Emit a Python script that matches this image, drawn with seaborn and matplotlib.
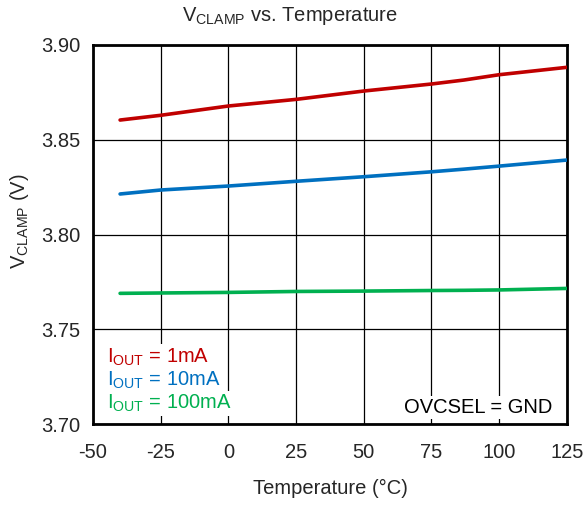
import matplotlib
matplotlib.use("Agg")
import matplotlib.pyplot as plt
import seaborn as sns
import pandas as pd

# Clamp voltage (V) versus temperature (°C) for three load currents
temperature = [-40, -25, 0, 25, 50, 75, 87, 100, 125]
v_1ma = [3.8604, 3.8629, 3.8678, 3.8713, 3.8757, 3.8794, 3.8815, 3.8843, 3.8882]
v_10ma = [3.8214, 3.8235, 3.8256, 3.8281, 3.8305, 3.8331, 3.8345, 3.8361, 3.8393]
v_100ma = [3.7690, 3.7692, 3.7695, 3.7700, 3.7702, 3.7705, 3.7706, 3.7708, 3.7716]
series_names = ["1mA", "10mA", "100mA"]
series_colors = ["#C00000", "#0070C0", "#00B050"]

x_ticks = [-50, -25, 0, 25, 50, 75, 100, 125]
y_ticks = [3.70, 3.75, 3.80, 3.85, 3.90]

sns.set_style("white")
plt.rcParams["font.family"] = ["Liberation Sans", "DejaVu Sans"]
plt.rcParams["mathtext.fontset"] = "custom"
plt.rcParams["mathtext.rm"] = "Liberation Sans"
plt.rcParams["mathtext.it"] = "Liberation Sans"

rows = []
for name, vals in zip(series_names, [v_1ma, v_10ma, v_100ma]):
    for t, v in zip(temperature, vals):
        rows.append({"Temperature": t, "Vclamp": v, "Iout": name})
df = pd.DataFrame(rows)

FS = 14.5

fig = plt.figure(figsize=(5.85, 5.05), dpi=100)
ax = fig.add_axes([0.159, 0.160, 0.810, 0.751])

sns.lineplot(data=df, x="Temperature", y="Vclamp", hue="Iout",
             palette=dict(zip(series_names, series_colors)),
             linewidth=2.6, legend=False, ax=ax, zorder=3)

ax.set_xlim(-50, 125)
ax.set_ylim(3.70, 3.90)
ax.set_xticks(x_ticks)
ax.set_yticks(y_ticks)
ax.set_xticklabels([str(t) for t in x_ticks])
ax.set_yticklabels([f"{v:.2f}" for v in y_ticks])
ax.tick_params(axis="both", labelsize=FS, length=0)
ax.tick_params(axis="x", pad=13.5)
ax.tick_params(axis="y", pad=9)
ax.grid(True, color="black", linewidth=0.9)
ax.set_axisbelow(True)
for sp in ax.spines.values():
    sp.set_visible(True)
    sp.set_color("black")
    sp.set_linewidth(2.0)

ax.set_xlabel("Temperature (°C)", fontsize=FS, labelpad=12.5)
ax.set_ylabel(r"$\mathregular{V_{CLAMP}}$ (V)", fontsize=FS)
ax.yaxis.set_label_coords(-0.131, 0.536)
ax.set_title(r"$\mathregular{V_{CLAMP}}$ vs. Temperature", fontsize=FS,
             pad=17, x=0.416)

box = dict(facecolor="white", edgecolor="none", pad=1.5)
label_y = [0.177, 0.116, 0.055]
for name, col, yy in zip(series_names, series_colors, label_y):
    ax.text(0.030, yy, r"$\mathregular{I_{OUT}}$ = " + name,
            transform=ax.transAxes, color=col, fontsize=FS,
            ha="left", va="center", bbox=box, zorder=4)
ax.text(0.970, 0.045, "OVCSEL = GND", transform=ax.transAxes,
        color="black", fontsize=FS, ha="right", va="center",
        bbox=box, zorder=4)

fig.savefig("out.png", dpi=100)
